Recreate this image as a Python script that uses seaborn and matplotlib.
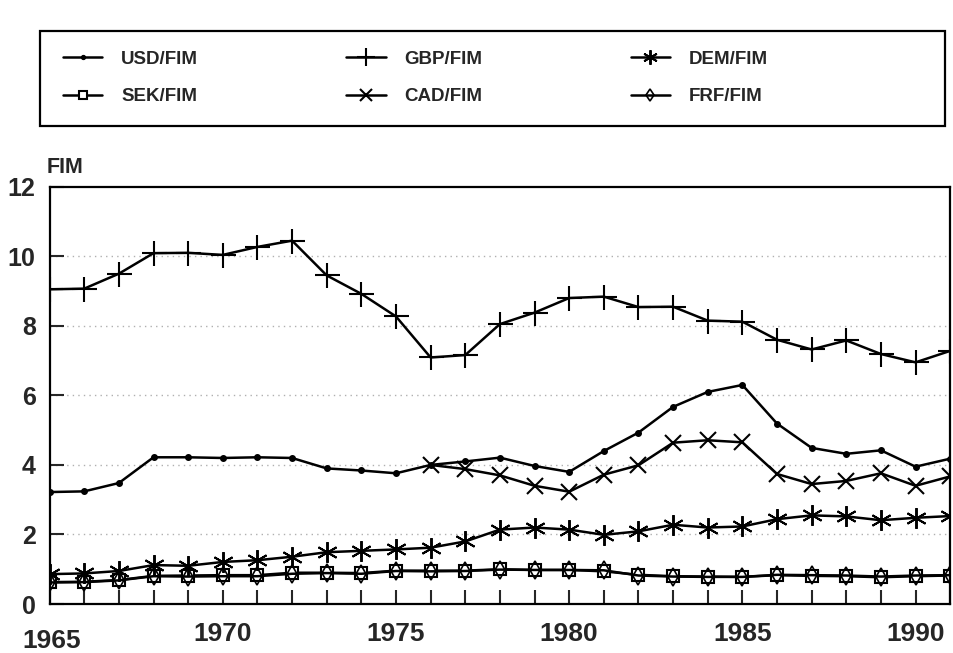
import numpy as np
import pandas as pd
import matplotlib
matplotlib.use("Agg")
import matplotlib.pyplot as plt
from matplotlib.patches import Rectangle
from matplotlib.transforms import ScaledTranslation
import seaborn as sns

# exchange rates, FIM per unit of currency, 1965-1991
years = list(range(1965, 1992))
usd = [3.22, 3.24, 3.48, 4.22, 4.22, 4.20, 4.22, 4.20, 3.90, 3.84, 3.76, 4.00, 4.10,
       4.21, 3.97, 3.80, 4.40, 4.93, 5.67, 6.10, 6.30, 5.19, 4.49, 4.32, 4.42, 3.95, 4.18]
gbp = [9.05, 9.07, 9.50, 10.09, 10.10, 10.04, 10.27, 10.45, 9.45, 8.92, 8.27, 7.09, 7.16,
       8.05, 8.38, 8.80, 8.84, 8.54, 8.55, 8.15, 8.12, 7.60, 7.32, 7.58, 7.19, 6.95, 7.28]
dem = [0.86, 0.88, 0.95, 1.12, 1.10, 1.21, 1.26, 1.36, 1.49, 1.53, 1.57, 1.62, 1.80,
       2.14, 2.20, 2.14, 1.99, 2.09, 2.28, 2.20, 2.23, 2.44, 2.55, 2.52, 2.41, 2.48, 2.53]
sek = [0.63, 0.64, 0.69, 0.81, 0.82, 0.83, 0.83, 0.90, 0.90, 0.89, 0.96, 0.96, 0.96,
       1.00, 0.98, 0.98, 0.94, 0.84, 0.80, 0.79, 0.78, 0.83, 0.81, 0.80, 0.77, 0.80, 0.82]
frf = [0.62, 0.63, 0.68, 0.80, 0.79, 0.80, 0.80, 0.87, 0.89, 0.87, 0.95, 0.94, 0.95,
       0.99, 0.98, 0.98, 0.97, 0.82, 0.79, 0.78, 0.78, 0.84, 0.83, 0.82, 0.79, 0.82, 0.83]
cad_years = list(range(1976, 1992))
cad = [4.00, 3.88, 3.70, 3.40, 3.23, 3.72, 3.99, 4.64, 4.71, 4.65, 3.74, 3.45, 3.54,
       3.76, 3.40, 3.67]

sns.set_style("white")
plt.rcParams["font.family"] = ["Liberation Sans", "DejaVu Sans"]
plt.rcParams["font.weight"] = "bold"

fig = plt.figure(figsize=(9.54, 6.53), dpi=100)
ax = fig.add_axes([0.052, 0.075, 0.944, 0.639])

lw = 1.8
common = dict(ax=ax, color="black", lw=lw, mec="black")
sns.lineplot(x=years, y=usd, marker="o", ms=4, mew=1, label="USD/FIM", **common)
sns.lineplot(x=years, y=sek, marker="s", ms=8, mfc="white", mew=1.5,
             label="SEK/FIM", **common)
sns.lineplot(x=years, y=gbp, marker="+", ms=18, mew=1.5, label="GBP/FIM", **common)
sns.lineplot(x=cad_years, y=cad, marker="x", ms=12, mew=1.5, label="CAD/FIM", **common)
sns.lineplot(x=years, y=dem, marker=(6, 2, 0), ms=15, mew=1.4, label="DEM/FIM",
             **common)
sns.lineplot(x=years, y=frf, marker="d", ms=9, mfc="none", mew=1.2,
             label="FRF/FIM", **common)

ax.set_xlim(1965, 1991)
ax.set_ylim(0, 12)
ax.set_yticks(np.arange(0, 13, 2))
ax.set_xticks(range(1965, 1991, 5))
ax.set_xticks(years, minor=True)
ax.set_xlabel("")
ax.set_ylabel("")
for y in [2, 4, 6, 8, 10]:
    ax.axhline(y, color="#b0b0b0", lw=1.0, ls=(0, (1, 3)), zorder=0)

for s in ax.spines.values():
    s.set_color("black")
    s.set_linewidth(1.6)
ax.tick_params(axis="y", direction="in", length=10, width=1.5, pad=10,
               labelsize=18, left=True)
ax.tick_params(axis="x", which="both", direction="in", length=10, width=1.5,
               pad=13, labelsize=19, bottom=True)
for t in ax.get_xticklabels() + ax.get_yticklabels():
    t.set_fontweight("bold")

# 1965 sits below the "0" of the y axis
lab = ax.xaxis.get_major_ticks()[0].label1
lab.set_transform(lab.get_transform() + ScaledTranslation(0.02, -0.065, fig.dpi_scale_trans))

ax.text(-0.003, 1.02, "FIM", transform=ax.transAxes, fontsize=15.5,
        fontweight="bold", ha="left", va="bottom")

handles, labels = ax.get_legend_handles_labels()
ax.get_legend().remove()
leg = fig.legend(handles, labels, ncol=3, loc="center left",
                 bbox_to_anchor=(63 / 954, 1 - 78 / 653), frameon=False,
                 prop={"size": 13.5, "weight": "bold"}, handlelength=2.1,
                 handletextpad=1.0, columnspacing=7.9, labelspacing=1.1,
                 borderpad=0, borderaxespad=0)
for h in leg.legend_handles:
    h.set_markersize(h.get_markersize() * 0.7)
fig.patches.append(Rectangle((40 / 954, 1 - 126 / 653), 905 / 954, 95 / 653,
                             transform=fig.transFigure, fill=False,
                             lw=1.6, ec="black"))

fig.savefig("out.png", dpi=100)
